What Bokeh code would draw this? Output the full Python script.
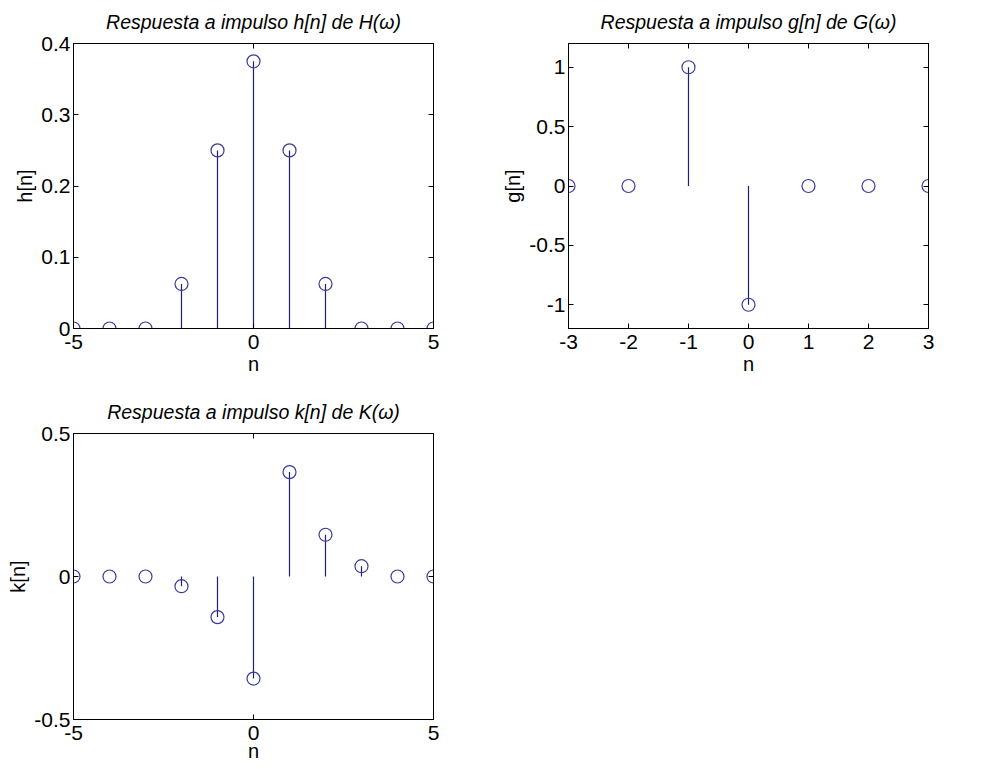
from bokeh.plotting import figure
from bokeh.layouts import column, row
from bokeh.models import (LinearAxis, FixedTicker, Range1d, CustomJSTickFormatter,
                          CustomLabelingPolicy)
from bokeh.embed import file_html
from bokeh.resources import INLINE

# data
n_h = [-5, -4, -3, -2, -1, 0, 1, 2, 3, 4, 5]
h_vals = [0, 0, 0, 0.0625, 0.25, 0.375, 0.25, 0.0625, 0, 0, 0]
n_g = [-3, -2, -1, 0, 1, 2, 3]
g_vals = [0, 0, 1, -1, 0, 0, 0]
n_k = [-5, -4, -3, -2, -1, 0, 1, 2, 3, 4, 5]
k_vals = [0, 0, 0, -0.034, -0.142, -0.357, 0.365, 0.146, 0.036, 0, 0]

h_xticks = [-5, 0, 5]
h_yticks = [0, 0.1, 0.2, 0.3, 0.4]
g_xticks = [-3, -2, -1, 0, 1, 2, 3]
g_yticks = [-1, -0.5, 0, 0.5, 1]
k_xticks = [-5, 0, 5]
k_yticks = [-0.5, 0, 0.5]

titles = ["Respuesta a impulso h[n] de H(\u03c9)",
          "Respuesta a impulso g[n] de G(\u03c9)",
          "Respuesta a impulso k[n] de K(\u03c9)"]

FONT = "Liberation Sans"
STEM = "#1f1f78"
MARK = "#3a3aa0"


def make(n, vals, xr, yr, xt, yt, title, ylabel, borders, fh, xlab_standoff, baseline=False):
    bl, br, bt, bb = borders
    p = figure(frame_width=360, frame_height=fh, x_range=Range1d(*xr), y_range=Range1d(*yr),
               output_backend="svg", toolbar_location=None, tools="",
               min_border_left=bl, min_border_right=br, min_border_top=bt, min_border_bottom=bb,
               x_axis_label="n", y_axis_label=ylabel)
    p.grid.visible = False
    p.outline_line_color = "black"
    p.outline_line_width = 1
    p.title.text = title
    p.title.text_font = FONT
    p.title.text_font_style = "italic"
    p.title.text_font_size = "19.5px"
    p.title.text_color = "black"
    p.title.align = "center"
    p.title.standoff = 14
    for ax, ticks in ((p.xaxis[0], xt), (p.yaxis[0], yt)):
        ax.ticker = FixedTicker(ticks=ticks)
        ax.formatter = CustomJSTickFormatter(code="return String(tick);")
        ax.major_label_text_font = FONT
        ax.major_label_text_font_size = "21px"
        ax.major_label_text_color = "black"
        ax.axis_label_text_font = FONT
        ax.axis_label_text_font_size = "20px"
        ax.axis_label_text_font_style = "normal"
        ax.axis_label_text_color = "black"
        ax.major_tick_in = 5
        ax.major_tick_out = 0
        ax.minor_tick_in = 0
        ax.minor_tick_out = 0
        ax.axis_line_color = "black"
        ax.major_label_standoff = 3
        ax.axis_label_standoff = 2
    p.xaxis[0].major_label_standoff = 6
    p.xaxis[0].axis_label_standoff = xlab_standoff
    for loc, ticks in (("above", xt), ("right", yt)):
        ax = LinearAxis(ticker=FixedTicker(ticks=ticks), major_tick_in=5, major_tick_out=0,
                        minor_tick_in=0, minor_tick_out=0, major_label_text_font_size="1px",
                        major_label_policy=CustomLabelingPolicy(code="return new Set()"),
                        major_label_standoff=0, axis_line_color="black")
        p.add_layout(ax, loc)
    if baseline:
        p.line(x=[xr[0], xr[1]], y=[0, 0], line_color="#202020", line_width=1)
    p.segment(x0=n, y0=[0] * len(n), x1=n, y1=vals, line_color=STEM, line_width=1.2)
    p.scatter(x=n, y=vals, marker="circle", size=13, fill_color=None,
              line_color=MARK, line_width=1.2)
    return p


p1 = make(n_h, h_vals, (-5, 5), (0, 0.4), h_xticks, h_yticks, titles[0], "h[n]",
          (73, 65, 43, 63), 285, 1, baseline=True)
p2 = make(n_g, g_vals, (-3, 3), (-1.2, 1.2), g_xticks, g_yticks, titles[1], "g[n]",
          (70, 20, 43, 63), 285, 1)
p3 = make(n_k, k_vals, (-5, 5), (-0.5, 0.5), k_xticks, k_yticks, titles[2], "k[n]",
          (73, 65, 33, 30), 286, -3)

layout = column(row(p1, p2), p3)
open("out.html", "w").write(file_html(layout, INLINE))
